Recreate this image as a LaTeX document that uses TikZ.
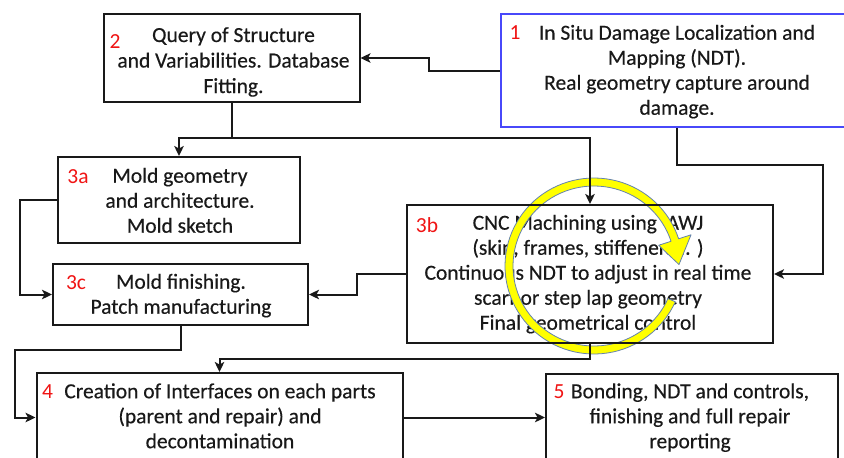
\documentclass[tikz,border=0pt]{standalone}
\usepackage{fontspec}
\setmainfont{Carlito}
\newfontfamily\stepfont{Carlito}[FakeBold=0.35]
\usetikzlibrary{arrows.meta,calc}
\definecolor{boxline}{RGB}{25,25,25}
\definecolor{bluebox}{RGB}{72,72,250}
\definecolor{numred}{RGB}{240,20,20}
\definecolor{ringfill}{RGB}{255,255,0}
\definecolor{ringline}{RGB}{100,130,175}
\tikzset{
  box/.style={draw=boxline, line width=2pt, inner sep=0pt},
  bluebox/.style={draw=bluebox, line width=2.2pt, inner sep=0pt},
  txt/.style={font=\stepfont\fontsize{21.5}{25}\selectfont, text=boxline, align=center, inner sep=0pt,
              execute at begin node=\strut, execute at end node=\strut},
  num/.style={font=\fontsize{21.5}{25}\selectfont, text=numred, inner sep=0pt},
  conn/.style={draw=boxline, line width=2pt},
  arr/.style={conn, -{Stealth[length=10pt,width=9.5pt,inset=2.5pt]}}
}
\begin{document}
\begin{tikzpicture}[x=1pt, y=-1pt]
\useasboundingbox (0,0) rectangle (844,458);
\clip (0,0) rectangle (844,458);
\fill[white] (0,0) rectangle (844,458);

% texts of the steps
\node[txt] (t1) at (677,73.5) {In Situ Damage Localization and\\Mapping (NDT).\\Real geometry capture around\\damage.};
\node[txt] (t2a) at (233.5,37) {Query of Structure};
\node[txt] (t2b) at (233.5,62.5) {and Variabilities. Database};
\node[txt] (t2c) at (233.5,88) {Fitting.};
\node[txt] (t3a) at (180,204) {Mold geometry\\and architecture.\\Mold sketch};
\node[txt] (t3b) at (588,276) {CNC Machining using\ \ AWJ\\(skin, frames, stiffeners,.. )\\Continuous NDT to adjust in real time\\scarf or step lap geometry\\Final geometrical control};
\node[txt] (t3c) at (181,297.5) {Mold finishing.\\Patch manufacturing};
\node[txt] (t4) at (220,419.5) {Creation of Interfaces on each parts\\(parent and repair) and\\decontamination};
\node[txt] (t5) at (690,419.5) {Bonding, NDT and controls,\\finishing and full repair\\reporting};

% step numbers
\node[num] (n1) at (515,33) {1};
\node[num] (n2) at (115,42) {2};
\node[num] (n3a) at (78,177) {3a};
\node[num] (n3b) at (427,225) {3b};
\node[num] (n3c) at (76,283) {3c};
\node[num] (n4) at (47.5,392) {4};
\node[num] (n5) at (559,392) {5};

% circular arrow of the real-time NDT loop
\filldraw[fill=ringfill, draw=ringline, line width=0.8pt, line join=round]
  plot[domain=24:342, samples=90, variable=\t] ({594+89*cos(\t)},{266+88*sin(\t)})
  -- ({594+102*cos(342)},{266+101*sin(342)})
  -- ({594+85*cos(359)},{266+84*sin(359)})
  -- ({594+68*cos(342)},{266+67*sin(342)})
  -- plot[domain=342:24, samples=90, variable=\t] ({594+81*cos(\t)},{266+80*sin(\t)})
  -- cycle;

% frames of the steps
\node[bluebox, minimum width=352pt, minimum height=113pt] (b1) at (677,70.5) {};
\node[box, minimum width=255.5pt, minimum height=88pt] (b2) at (231.75,58) {};
\node[box, minimum width=242pt, minimum height=86pt] (b3a) at (179,200) {};
\node[box, minimum width=366pt, minimum height=138pt] (b3b) at (590,274) {};
\node[box, minimum width=255pt, minimum height=61pt] (b3c) at (180.5,294.5) {};
\node[box, minimum width=366pt, minimum height=89pt] (b4) at (219.5,417.5) {};
\node[box, minimum width=292pt, minimum height=88pt] (b5) at (692,418) {};

% connectors
\coordinate (j2) at ($(b2.south)+(0,35)$);
\coordinate (c13) at (823,165);
\coordinate (c34) at (15,350);

\draw[arr] (b1.west) -- ++(-71,0) |- (b2.east);
\draw[conn] (b2.south) -- (j2);
\draw[arr] (j2) -| (b3a.north);
\draw[arr] (j2) -| (b3b.north);
\draw[arr] (b1.south) |- (c13) |- (b3b.east);
\draw[arr] (b3a.west) -- ++(-37,0) |- (b3c.west);
\draw[arr] (b3b.west) -- ++(-49,0) |- (b3c.east);
\draw[arr] (b3c.south) |- (c34) |- (b4.west);
\draw[arr] (b3b.south) -- ++(0,15) -| (b4.north);
\draw[arr] (b4.east) -- (b4.east -| b5.west);
\end{tikzpicture}
\end{document}
